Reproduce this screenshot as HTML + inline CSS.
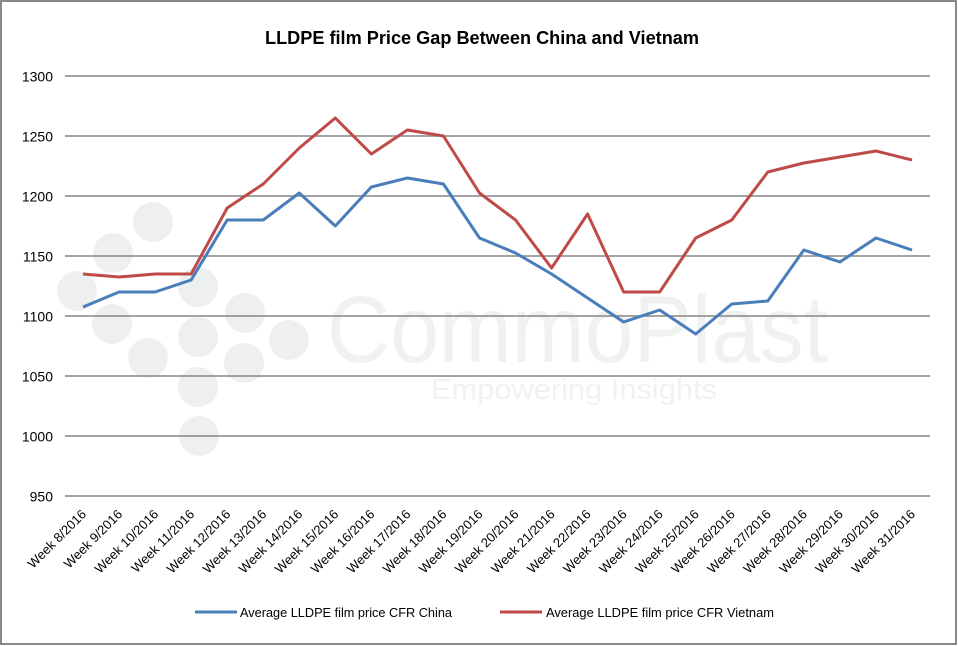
<!DOCTYPE html>
<html>
<head>
<meta charset="utf-8">
<style>
  html, body { margin: 0; padding: 0; background: #ffffff; }
  svg { display: block; }
  text { font-family: "Liberation Sans", sans-serif; }
</style>
</head>
<body>
<svg width="958" height="646" viewBox="0 0 958 646" xmlns="http://www.w3.org/2000/svg">
  <rect x="0" y="0" width="958" height="646" fill="#ffffff"/>
  <rect x="1" y="1" width="955" height="643" fill="none" stroke="#898989" stroke-width="2"/>

  <!-- watermark -->
  <g fill="#eef0ef">
    <circle cx="153" cy="222" r="20"/>
    <circle cx="113" cy="253" r="20"/>
    <circle cx="77" cy="291" r="20"/>
    <circle cx="112" cy="324" r="20"/>
    <circle cx="148" cy="358" r="20"/>
    <circle cx="198" cy="287" r="20"/>
    <circle cx="198" cy="337" r="20"/>
    <circle cx="198" cy="387" r="20"/>
    <circle cx="199" cy="436" r="20"/>
    <circle cx="245" cy="313" r="20"/>
    <circle cx="244" cy="363" r="20"/>
    <circle cx="289" cy="340" r="20"/>
  </g>
  <g fill="#f0f2f1">
    <text x="327" y="362" font-size="95" textLength="501" lengthAdjust="spacingAndGlyphs">CommoPlast</text>
    <text x="431" y="399" font-size="29" textLength="286" lengthAdjust="spacingAndGlyphs">Empowering Insights</text>
  </g>

  <!-- title -->
  <text x="265" y="44" font-size="18" font-weight="bold" fill="#000" textLength="434" lengthAdjust="spacingAndGlyphs">LLDPE film Price Gap Between China and Vietnam</text>

  <!-- gridlines -->
  <g stroke="#868686" stroke-width="1.5">
    <line x1="65" y1="76" x2="930" y2="76"/>
    <line x1="65" y1="136" x2="930" y2="136"/>
    <line x1="65" y1="196" x2="930" y2="196"/>
    <line x1="65" y1="256" x2="930" y2="256"/>
    <line x1="65" y1="316" x2="930" y2="316"/>
    <line x1="65" y1="376" x2="930" y2="376"/>
    <line x1="65" y1="436" x2="930" y2="436"/>
    <line x1="65" y1="496" x2="930" y2="496"/>
  </g>

  <!-- y labels -->
  <g font-size="14" fill="#000" text-anchor="end">
    <text x="53" y="81.5">1300</text>
    <text x="53" y="141.5">1250</text>
    <text x="53" y="201.5">1200</text>
    <text x="53" y="261.5">1150</text>
    <text x="53" y="321.5">1100</text>
    <text x="53" y="381.5">1050</text>
    <text x="53" y="441.5">1000</text>
    <text x="53" y="501.5">950</text>
  </g>

  <!-- series -->
  <polyline fill="none" stroke="#be4b48" stroke-width="3" stroke-linejoin="round"
    points="83.02,274 119.06,277 155.10,274 191.15,274 227.19,208 263.23,184 299.27,148 335.31,118 371.35,154 407.40,130 443.44,136 479.48,193 515.52,220 551.56,268 587.60,214 623.65,292 659.69,292 695.73,238 731.77,220 767.81,172 803.85,163 839.90,157 875.94,151 911.98,160"/>
  <polyline fill="none" stroke="#4a7ebb" stroke-width="3" stroke-linejoin="round"
    points="83.02,307 119.06,292 155.10,292 191.15,280 227.19,220 263.23,220 299.27,193 335.31,226 371.35,187 407.40,178 443.44,184 479.48,238 515.52,253 551.56,274 587.60,298 623.65,322 659.69,310 695.73,334 731.77,304 767.81,301 803.85,250 839.90,262 875.94,238 911.98,250"/>

  <!-- x labels -->
  <g font-size="13" fill="#000" text-anchor="end">
    <text transform="translate(87.0,515) rotate(-45)">Week 8/2016</text>
    <text transform="translate(123.1,515) rotate(-45)">Week 9/2016</text>
    <text transform="translate(159.1,515) rotate(-45)">Week 10/2016</text>
    <text transform="translate(195.1,515) rotate(-45)">Week 11/2016</text>
    <text transform="translate(231.2,515) rotate(-45)">Week 12/2016</text>
    <text transform="translate(267.2,515) rotate(-45)">Week 13/2016</text>
    <text transform="translate(303.3,515) rotate(-45)">Week 14/2016</text>
    <text transform="translate(339.3,515) rotate(-45)">Week 15/2016</text>
    <text transform="translate(375.4,515) rotate(-45)">Week 16/2016</text>
    <text transform="translate(411.4,515) rotate(-45)">Week 17/2016</text>
    <text transform="translate(447.4,515) rotate(-45)">Week 18/2016</text>
    <text transform="translate(483.5,515) rotate(-45)">Week 19/2016</text>
    <text transform="translate(519.5,515) rotate(-45)">Week 20/2016</text>
    <text transform="translate(555.6,515) rotate(-45)">Week 21/2016</text>
    <text transform="translate(591.6,515) rotate(-45)">Week 22/2016</text>
    <text transform="translate(627.6,515) rotate(-45)">Week 23/2016</text>
    <text transform="translate(663.7,515) rotate(-45)">Week 24/2016</text>
    <text transform="translate(699.7,515) rotate(-45)">Week 25/2016</text>
    <text transform="translate(735.8,515) rotate(-45)">Week 26/2016</text>
    <text transform="translate(771.8,515) rotate(-45)">Week 27/2016</text>
    <text transform="translate(807.9,515) rotate(-45)">Week 28/2016</text>
    <text transform="translate(843.9,515) rotate(-45)">Week 29/2016</text>
    <text transform="translate(879.9,515) rotate(-45)">Week 30/2016</text>
    <text transform="translate(916.0,515) rotate(-45)">Week 31/2016</text>
  </g>

  <!-- legend -->
  <line x1="195" y1="612" x2="237" y2="612" stroke="#4a7ebb" stroke-width="3"/>
  <text x="240" y="617" font-size="13" fill="#000" textLength="212" lengthAdjust="spacingAndGlyphs">Average LLDPE film price CFR China</text>
  <line x1="500" y1="612" x2="542" y2="612" stroke="#be4b48" stroke-width="3"/>
  <text x="546" y="617" font-size="13" fill="#000" textLength="228" lengthAdjust="spacingAndGlyphs">Average LLDPE film price CFR Vietnam</text>
</svg>
</body>
</html>
